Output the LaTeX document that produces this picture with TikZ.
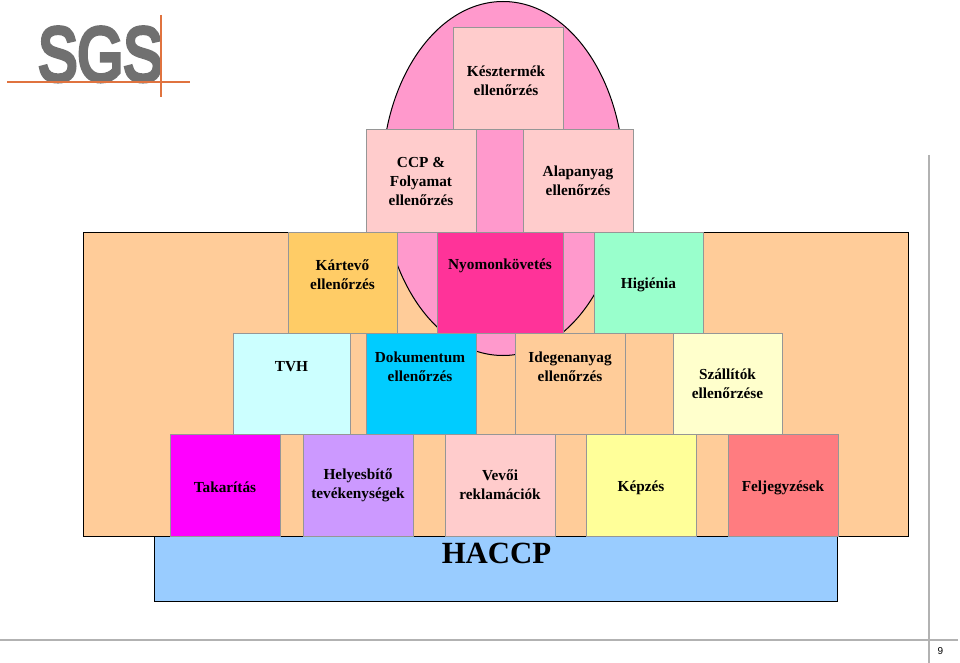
\documentclass[tikz,border=0pt]{standalone}
\usepackage{fontspec}
\setmainfont{Liberation Serif}
\newfontfamily\logofont[FakeBold=6]{Liberation Sans}
\newfontfamily\pagefont{Liberation Sans}
\usepackage{tikz}

\definecolor{basefill}{HTML}{FFCC99}
\definecolor{domefill}{HTML}{FF99CC}
\definecolor{hacfill}{HTML}{99CCFF}
\definecolor{boxline}{HTML}{969696}
\definecolor{logogray}{HTML}{707070}
\definecolor{logoline}{HTML}{E0733F}
\definecolor{pageline}{HTML}{B2B2B2}

\tikzset{
  box/.style={draw=boxline,line width=1pt,inner sep=0pt,outer sep=0pt,minimum width=110pt,minimum height=102pt,
    align=center,text=black,font=\fontsize{15.3}{19}\selectfont\bfseries,execute at begin node={\rule{0pt}{16pt}}},
  boxtxt/.style={inner sep=0pt,align=center,text=black,font=\fontsize{15.3}{19}\selectfont\bfseries},
  slab/.style={draw=black,line width=1pt,inner sep=0pt,outer sep=0pt}
}

\begin{document}
\begin{tikzpicture}
  [x=1pt,y=-1pt]
  \useasboundingbox (0,0) rectangle (960,663);

  \node[style={slab,fill=basefill,minimum width=825pt,minimum height=304pt}] (base) at (495.5,384) {};
  \draw[line width=1pt,fill=domefill] (503,178.5) ellipse [x radius=121,y radius=177];
  \node[style={slab,fill=hacfill,minimum width=683pt,minimum height=65pt}] (hac) at (495.5,568.5) {};
  \node[font=\fontsize{30.8}{30}\selectfont\bfseries,inner sep=0pt] (hactxt) at (496.5,553) {HACCP};

  % top
  \node[style={box,fill=red!20}] (n1) at (508,79) {};
  \node[style=boxtxt] (t1) at (506,80.5) {Késztermék\\ellenőrzés};
  \node[style={box,fill=red!20}] (n2) at (421,181) {CCP \&\\Folyamat\\ellenőrzés};
  \node[style={box,fill=red!20}] (n3) at (578,181) {Alapanyag\\ellenőrzés};

  % second row
  \node[style={box,fill={rgb,255:red,255;green,204;blue,102},minimum height=101pt,minimum width=109pt}] (n4) at (342.5,282.5) {};
  \node[style=boxtxt] (t4) at (342.5,274.5) {Kártevő\\ellenőrzés};
  \node[style={box,fill={rgb,255:red,255;green,51;blue,153},minimum height=101pt,minimum width=126pt}] (n5) at (500,282.5) {};
  \node[style=boxtxt] (t5) at (500,266) {Nyomonkövetés};
  \node[style={box,fill={rgb,255:red,153;green,255;blue,204},minimum height=101pt,minimum width=109pt}] (n6) at (648.5,282.5) {Higiénia};

  % third row
  \node[style={box,fill={rgb,255:red,204;green,255;blue,255},minimum height=101pt,minimum width=117pt}] (n7) at (291.5,383.5) {};
  \node[style=boxtxt] (t7) at (291.5,367) {TVH};
  \node[style={box,fill={rgb,255:red,0;green,204;blue,255},minimum height=101pt}] (n8) at (421,383.5) {};
  \node[style=boxtxt] (t8) at (420,367) {Dokumentum\\ellenőrzés};
  \node[style={box,fill=basefill,minimum height=101pt}] (n9) at (570,383.5) {};
  \node[style=boxtxt] (t9) at (570,367) {Idegenanyag\\ellenőrzés};
  \node[style={box,fill={rgb,255:red,255;green,255;blue,204},minimum height=101pt,minimum width=109pt}] (n10) at (727.5,383.5) {Szállítók\\ellenőrzése};

  % bottom row
  \node[style={box,fill={rgb,255:red,255;green,0;blue,255}}] (n11) at (225,485) {Takarítás};
  \node[style={box,fill={rgb,255:red,204;green,153;blue,255}}] (n12) at (358,485) {Helyesbítő\\tevékenységek};
  \node[style={box,fill=red!20}] (n13) at (500,485) {Vevői\\reklamációk};
  \node[style={box,fill={rgb,255:red,255;green,255;blue,153}}] (n14) at (641,485) {Képzés};
  \node[style={box,fill={rgb,255:red,255;green,124;blue,128}}] (n15) at (783,485) {Feljegyzések};

  % logo
  \node[text=logogray,font=\fontsize{76}{76}\selectfont\logofont,inner sep=0pt,anchor=base west,xscale=0.775] (sgs) at (38,80.5) {SGS};
  \coordinate (l1) at (7,82);
  \coordinate (l2) at (190,82);
  \coordinate (l3) at (161,15);
  \coordinate (l4) at (161,97);
  \foreach \from/\to in {l1/l2,l3/l4}
    \draw[color=logoline,line width=1.2pt] (\from) -- (\to);

  % page frame
  \coordinate (p1) at (929,155);
  \coordinate (p2) at (929,663);
  \coordinate (p3) at (0,640);
  \coordinate (p4) at (958,640);
  \foreach \from/\to in {p1/p2,p3/p4}
    \draw[pageline,line width=1.5pt] (\from) -- (\to);
  \node[font=\fontsize{10}{10}\selectfont\pagefont,inner sep=0pt] (pg) at (940.5,651) {9};
\end{tikzpicture}
\end{document}
